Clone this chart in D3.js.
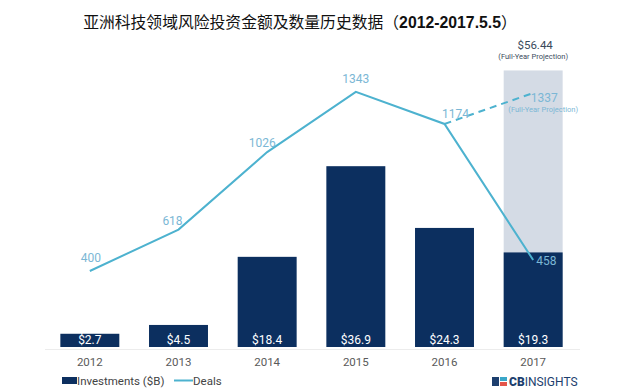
<!DOCTYPE html>
<html>
<head>
	<meta charset="UTF-8" />
	<title>Asia tech VC</title>
	<script src="https://d3js.org/d3.v7.min.js"></script>
	<style>
		body { margin: 0; background: #fff; }
		text { font-family: Roboto, "Noto Sans", sans-serif; }
	</style>
</head>
<body>
	<svg id="chart"></svg>

	<script type="text/javascript">
	// data
	var years = ["2012", "2013", "2014", "2015", "2016", "2017"]
	var investments = [2.7, 4.5, 18.4, 36.9, 24.3, 19.3]
	var deals = [400, 618, 1026, 1343, 1174, 458]
	var projYear = "2017"
	var projInvest = 56.44
	var projDeals = 1337
	var investLabels = ["$2.7", "$4.5", "$18.4", "$36.9", "$24.3", "$19.3"]

	// colors
	var navy = "#0c2f5f"
	var lineBlue = "#4db2cf"
	var labelBlue = "#7bb7d5"
	var projGray = "#d4dbe5"

	// label nudges for the deals numbers (dx, dy)
	var dealOffsets = [[1, -13], [-6, -9], [-5, -9], [0, -13], [11, -10], [3, 1]]

	var W = 640, H = 392
	var svg = d3.select("#chart").attr("width", W).attr("height", H)

	var x = d3.scaleBand().domain(years).range([45.5, 577.5])
		.paddingInner(0.335).paddingOuter(0.1675)
	var yBar = d3.scaleLinear().domain([0, 60]).range([347, 53])
	var yDeal = d3.scaleLinear().domain([0, 1400]).range([347, 81])
	var cx = d => x(d) + x.bandwidth() / 2

	// title
	var title = svg.append("text")
		.attr("x", 300).attr("y", 28)
		.attr("text-anchor", "middle")
		.style("font-family", "'Noto Sans CJK SC', sans-serif")
		.style("font-size", "15.8px")
		.style("fill", "#111")
	title.append("tspan").style("font-weight", 400).text("亚洲科技领域风险投资金额及数量历史数据（")
	title.append("tspan").style("font-weight", 700).style("font-family", "'Liberation Sans', Arial, sans-serif").text("2012-2017.5.5")
	title.append("tspan").style("font-weight", 400).text("）")

	// faint baseline
	svg.append("line")
		.attr("x1", 45).attr("x2", 580)
		.attr("y1", 349.5).attr("y2", 349.5)
		.style("stroke", "#ececec").style("stroke-width", 1)

	// projection bar
	svg.append("rect")
		.attr("x", x(projYear)).attr("width", x.bandwidth())
		.attr("y", yBar(projInvest)).attr("height", yBar(0) - yBar(projInvest))
		.style("fill", projGray)

	svg.append("text")
		.attr("x", cx(projYear) + 2).attr("y", 49)
		.attr("text-anchor", "middle")
		.style("font-size", "11.5px").style("fill", "#3a4a5c")
		.text("$" + projInvest)
	svg.append("text")
		.attr("x", cx(projYear)).attr("y", 59)
		.attr("text-anchor", "middle")
		.style("font-size", "7.5px").style("fill", "#3a4a5c")
		.text("(Full-Year Projection)")

	// bars
	svg.selectAll(".bar")
		.data(years)
		.enter()
		.append("rect")
		.attr("class", "bar")
		.attr("x", d => x(d))
		.attr("width", x.bandwidth())
		.attr("y", (d, i) => yBar(investments[i]))
		.attr("height", (d, i) => yBar(0) - yBar(investments[i]))
		.style("fill", navy)

	svg.selectAll(".barLabel")
		.data(years)
		.enter()
		.append("text")
		.attr("class", "barLabel")
		.attr("x", d => cx(d))
		.attr("y", 344)
		.attr("text-anchor", "middle")
		.style("font-size", "12px").style("fill", "#fff")
		.text((d, i) => investLabels[i])

	// x labels
	svg.selectAll(".year")
		.data(years)
		.enter()
		.append("text")
		.attr("class", "year")
		.attr("x", d => cx(d))
		.attr("y", 366)
		.attr("text-anchor", "middle")
		.style("font-size", "11.5px").style("fill", "#5a5a5a")
		.text(d => d)

	// deals line
	var line = d3.line().x(d => cx(d.year)).y(d => yDeal(d.v))
	var pts = years.map((y, i) => ({ year: y, v: deals[i] }))
	svg.append("path")
		.datum(pts)
		.attr("d", line)
		.style("fill", "none").style("stroke", lineBlue).style("stroke-width", 2)

	// projected dashed segment
	svg.append("path")
		.datum([{ year: "2016", v: deals[4] }, { year: projYear, v: projDeals }])
		.attr("d", line)
		.style("fill", "none").style("stroke", lineBlue).style("stroke-width", 2)
		.style("stroke-dasharray", "7,5")

	svg.selectAll(".dealLabel")
		.data(pts)
		.enter()
		.append("text")
		.attr("class", "dealLabel")
		.attr("x", (d, i) => cx(d.year) + dealOffsets[i][0])
		.attr("y", (d, i) => yDeal(d.v) + dealOffsets[i][1] + 4)
		.attr("text-anchor", (d, i) => i == 5 ? "start" : "middle")
		.style("font-size", "12px").style("fill", labelBlue)
		.text(d => d.v)

	svg.append("text")
		.attr("x", cx(projYear) + 11).attr("y", yDeal(projDeals) + 9)
		.attr("text-anchor", "middle")
		.style("font-size", "12px").style("fill", labelBlue)
		.text(projDeals)
	svg.append("text")
		.attr("x", cx(projYear) + 10).attr("y", yDeal(projDeals) + 19)
		.attr("text-anchor", "middle")
		.style("font-size", "7.5px").style("fill", labelBlue)
		.text("(Full-Year Projection)")

	// legend
	svg.append("rect").attr("x", 62).attr("y", 377).attr("width", 15).attr("height", 7).style("fill", navy)
	svg.append("text").attr("x", 77).attr("y", 385)
		.style("font-size", "11.5px").style("fill", "#444").text("Investments ($B)")
	svg.append("line").attr("x1", 174).attr("x2", 193).attr("y1", 380.5).attr("y2", 380.5)
		.style("stroke", lineBlue).style("stroke-width", 2)
	svg.append("text").attr("x", 193).attr("y", 385)
		.style("font-size", "11.5px").style("fill", "#444").text("Deals")

	// logo
	var logo = svg.append("g").attr("transform", "translate(492,377)")
	logo.append("rect").attr("x", 0).attr("y", 0).attr("width", 7).attr("height", 9).style("fill", "#1d3f6e")
	logo.append("rect").attr("x", 8).attr("y", 0).attr("width", 7).attr("height", 4).style("fill", "#3aa7c9")
	logo.append("rect").attr("x", 8).attr("y", 5).attr("width", 7).attr("height", 4).style("fill", "#e4554a")
	var lt = logo.append("text").attr("x", 17).attr("y", 9)
		.style("font-size", "12px").style("fill", "#1d3f6e")
	lt.append("tspan").style("font-weight", 900).text("CB")
	lt.append("tspan").style("font-weight", 400).text("INSIGHTS")
	</script>
</body>
</html>
